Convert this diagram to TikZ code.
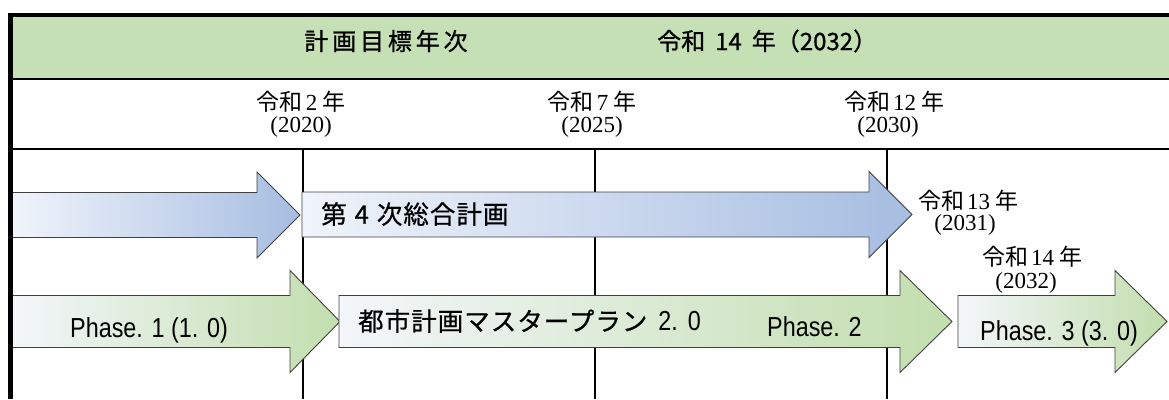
\documentclass[tikz,border=0pt]{standalone}
\usepackage{fontspec}
\setmainfont{Liberation Serif}
\newfontfamily\jp{Noto Sans CJK JP}
\newfontfamily\jpls{Noto Sans CJK JP}[LetterSpace=4,FakeBold=0.7]
\newfontfamily\jphd{Noto Sans CJK JP}[LetterSpace=16,FakeBold=1]
\newfontfamily\jphb{Noto Sans CJK JP}[FakeBold=1]
\newfontfamily\cond{Liberation Sans}[FakeStretch=0.85]
\newfontfamily\ser{Liberation Serif}
\definecolor{band}{HTML}{C5E0B4}
\definecolor{bluL}{HTML}{F0F4FB}
\definecolor{bluD}{HTML}{A6BDE1}
\definecolor{grnL}{HTML}{F3F6FA}
\definecolor{grnD}{HTML}{C2DEAE}
\definecolor{edge}{HTML}{404040}
\newcommand\bigarrow[7]{%
  \path[#1] (#2,#5-#6) -- (#3,#5-#6) -- (#3,#5-#7) -- (#4,#5) -- (#3,#5+#7)
    -- (#3,#5+#6) -- (#2,#5+#6) -- cycle;}
\tikzset{
  bluearrow/.style={draw=edge, line width=0.9pt, left color=bluL, right color=bluD},
  greenarrow/.style={draw=edge, line width=0.9pt, left color=grnL, right color=grnD},
  hd/.style={font=\jphd\fontsize{24}{28}\selectfont, inner sep=0pt},
  hdb/.style={font=\jphb\fontsize{24}{28}\selectfont, inner sep=0pt},
  yrk/.style={font=\jp\fontsize{23}{27}\selectfont, inner sep=0pt},
  yrn/.style={font=\ser\fontsize{23}{27}\selectfont, inner sep=0pt},
  lbl/.style={font=\jpls\fontsize{25.5}{28}\selectfont, inner sep=0pt},
  ph/.style={font=\cond\fontsize{27.5}{30}\selectfont, inner sep=0pt},
  thinrule/.style={line width=1.5pt, black},
}
\newcommand\yk[1]{令和\hspace{3pt}{\ser #1}\hspace{5pt}年}
\begin{document}
\begin{tikzpicture}[x=1pt,y=-1pt]
\useasboundingbox (0,0) rectangle (1169,399);
% header band
\fill[band] (10,16) rectangle (1169,79);
% rules
\draw[line width=4pt] (8,14.5) -- (1169,14.5);
\draw[line width=2pt] (8,79) -- (1169,79);
\draw[line width=2pt] (8,148.5) -- (1169,148.5);
\draw[thinrule] (303,148.5) -- (303,399);
\draw[thinrule] (595,148.5) -- (595,399);
\draw[thinrule] (887,148.5) -- (887,399);
% arrows
\bigarrow{bluearrow}{12}{257}{300}{215}{22.5}{43}
\bigarrow{bluearrow}{302}{869}{912}{214.5}{22.5}{43}
\bigarrow{greenarrow}{12}{290}{340}{321.5}{26}{51}
\bigarrow{greenarrow}{339}{900}{952}{321.5}{26}{51}
\bigarrow{greenarrow}{958}{1115}{1167}{321.5}{26}{51}
% left border
\draw[line width=4.5pt] (10.3,12.5) -- (10.3,399);
% header texts
\node[hd] (h1) at (386,41) {計画目標年次};
\node[hdb, anchor=west] (h2) at (657,41) {令和\hspace{10pt}14\hspace{10pt}年（2032）};
% year labels
\node[yrk] (r2a) at (301,102) {\yk{2}};
\node[yrn] (r2b) at (301,127) {(2020)};
\node[yrk] (r7a) at (592,102) {\yk{7}};
\node[yrn] (r7b) at (592,127) {(2025)};
\node[yrk] (r12a) at (894,102) {\yk{12}};
\node[yrn] (r12b) at (888,127) {(2030)};
\node[yrk] (r13a) at (968,201) {\yk{13}};
\node[yrn] (r13b) at (965,225) {(2031)};
\node[yrk] (r14a) at (1032,257) {\yk{14}};
\node[yrn] (r14b) at (1026,283) {(2032)};
% arrow labels
\node[lbl, anchor=west] (sogo) at (321,214) {第\hspace{8pt}4\hspace{8pt}次総合計画};
\node[lbl, anchor=west] (mp) at (358,321) {都市計画マスタープラン{\cond\fontsize{27.5}{30}\selectfont\hspace{11pt}2.\hspace{10pt}0}};
\node[ph, anchor=base west] (p1) at (70,337) {Phase. 1 (1. 0)};
\node[ph, anchor=base west] (p2) at (767,336) {Phase. 2};
\node[ph, anchor=base west] (p3) at (980,340) {Phase. 3 (3. 0)};
\end{tikzpicture}
\end{document}
